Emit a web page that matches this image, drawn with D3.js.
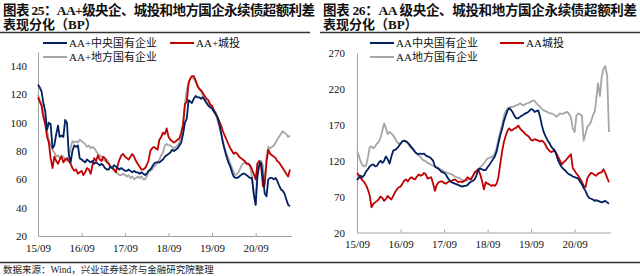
<!DOCTYPE html>
<html><head><meta charset="utf-8">
<script src="https://cdn.jsdelivr.net/npm/d3@7"></script>
<style>body{margin:0;background:#fff}svg{display:block}</style>
</head><body>
<svg id="c" width="640" height="276"></svg>
<script>
// ---------- data (semi-monthly observations, 2015-09 .. 2021-06) ----------
const xTickLabels = ["15/09","16/09","17/09","18/09","19/09","20/09"];
const xTickDates = ["2015-09-01","2016-09-01","2017-09-01","2018-09-01","2019-09-01","2020-09-01"];
const leftYTicks = [20,40,60,80,100,120,140];
const rightYTicks = [20,70,120,170,220,270];

const leftNames = ["AA+中央国有企业","AA+城投","AA+地方国有企业"];
const rightNames = ["AA中央国有企业","AA城投","AA地方国有企业"];

const leftCentral = [
 127,125,122,114,108,95,100,99,82,84,92,98,
 90,91,90,102,100,78,72,80,84,83,84,75,
 74,73,72,74,73,72,73,71,72,71,70,71,
 70,68,67,67,69,68,70,69,68,67,68,67,
 66,66,67,66,65,66,65,65,64,65,64,63,
 64,66,67,69,71,72,72,72,73,74,76,77,
 78,79,81,80,81,82,84,86,92,100,103,116,
 115,114,117,119,118,118,117,118,116,114,112,111,
 110,108,106,104,99,93,86,81,76,72,69,65,
 62,61,61,62,63,64,64,63,62,61,61,50,
 42,62,70,72,62,50,48,60,61,61,60,61,
 59,56,53,52,50,46,42,41];
const leftCity = [
 118,115,112,104,99,90,86,75,68,76,73,71,
 74,76,72,74,75,73,71,68,66,67,64,65,
 66,63,65,68,67,64,70,75,73,77,74,73,
 76,75,72,71,69,68,67,65,70,74,77,78,
 76,75,74,76,78,76,73,71,69,67,67,68,
 70,73,80,82,83,82,81,88,90,93,92,96,
 90,88,87,86,87,88,89,93,99,113,115,128,
 131,133,133,130,126,124,123,121,119,117,116,113,
 112,109,107,104,101,98,94,91,88,85,82,80,
 78,79,78,76,75,74,73,71,71,70,67,64,
 60,71,73,70,55,57,72,81,78,77,76,75,
 73,72,70,68,66,64,62,67];
const leftLocal = [
 120,116,113,106,100,94,88,84,81,79,76,77,
 75,77,76,74,73,76,82,87,86,87,86,88,
 87,86,85,83,84,82,83,82,80,78,77,76,
 74,73,74,72,69,68,66,65,64,63,63,64,
 63,62,63,61,62,60,61,62,61,62,60,60,
 62,65,66,67,69,70,72,74,77,79,84,85,
 84,84,83,82,83,84,86,90,98,113,123,128,
 131,132,131,129,127,124,122,119,117,115,113,112,
 110,108,106,102,97,92,87,82,78,75,71,68,
 65,63,64,66,69,71,72,72,71,69,62,50,
 42,71,73,73,70,55,76,83,82,83,84,86,
 88,90,92,94,93,92,90,91];

const rightCentral = [
 93,96,99,97,100,105,108,112,114,115,112,113,
 117,120,117,120,126,122,116,126,134,135,137,140,
 144,147,148,147,145,142,139,136,132,130,129,130,
 129,130,127,126,125,123,120,112,110,109,106,104,
 103,101,96,93,90,89,88,87,86,85,84,85,
 85,86,89,91,92,94,100,108,109,108,107,107,
 111,114,118,122,126,133,144,155,164,175,183,190,
 193,191,187,182,179,179,181,183,184,186,187,189,
 192,191,188,189,190,181,169,160,154,149,145,140,
 137,135,128,120,115,111,108,106,103,101,100,98,
 97,96,95,91,87,82,78,72,68,67,66,64,
 65,64,63,62,63,64,62,60];
const rightCity = [
 103,100,96,93,90,86,80,72,55,60,62,64,
 66,70,68,64,67,71,68,66,71,76,80,83,
 84,88,92,94,91,95,97,95,94,98,101,99,
 100,103,101,95,96,97,88,78,86,90,91,91,
 89,88,90,91,92,93,94,92,90,91,90,92,
 93,97,95,94,99,104,106,108,101,92,80,90,
 88,87,85,86,85,88,97,115,133,146,155,162,
 165,162,163,165,166,169,165,162,160,157,155,153,
 149,148,150,149,148,147,148,146,142,137,134,132,
 133,134,130,125,120,115,118,120,123,126,129,110,
 106,102,99,95,90,85,83,95,100,103,102,100,
 99,102,103,104,108,103,96,90];
const rightLocal = [
 133,127,119,114,112,113,124,138,140,137,140,144,
 146,152,162,172,165,157,160,158,155,151,146,144,
 144,147,148,146,144,140,137,135,132,129,127,125,
 122,120,119,117,116,114,113,112,111,110,108,107,
 105,104,103,102,101,100,98,97,96,95,93,92,
 92,93,94,96,99,102,106,108,111,113,116,120,
 123,124,125,126,130,138,150,160,170,182,189,193,
 194,195,195,196,197,198,200,198,197,199,200,201,
 202,204,203,200,197,195,192,190,189,188,186,186,
 185,184,181,183,186,185,186,187,188,185,180,165,
 160,183,186,185,182,148,157,167,170,174,183,188,
 205,228,210,237,248,252,238,160];

// semi-monthly observation dates (1st and 16th of each month from 2015-09)
const dates = leftCentral.map((_, i) => new Date(2015, 8 + Math.floor(i / 2), i % 2 ? 16 : 1));

const colors = ["#002060", "#c00000", "#a6a6a6"];
const serif = "'Liberation Serif','Times New Roman','Noto Sans CJK SC',serif";

const svg = d3.select("#c");
svg.append("rect").attr("width", 640).attr("height", 276).attr("fill", "#fff");

function panel(cfg) {
  const g = svg.append("g");
  // titles
  g.append("text").attr("x", cfg.tx).attr("y", 15)
    .attr("textLength", cfg.t1len).attr("lengthAdjust", "spacing")
    .attr("font-family", serif).attr("font-weight", "bold").attr("font-size", 13.5)
    .attr("fill", "#111").text(cfg.title1);
  g.append("text").attr("x", cfg.tx).attr("y", 28.5)
    .attr("font-family", serif).attr("font-weight", "bold").attr("font-size", 13)
    .attr("fill", "#111").text("表现分化（BP）");
  g.append("line").attr("x1", cfg.sepX[0]).attr("x2", cfg.sepX[1])
    .attr("y1", 32.5).attr("y2", 32.5).attr("stroke", "#333").attr("stroke-width", 1.5);

  const x = d3.scaleTime()
    .domain([new Date(2015, 8, 1), new Date(2021, 6, 1)])
    .range(cfg.xRange);
  const y = d3.scaleLinear().domain(cfg.yDomain).range(cfg.yRange);

  // axes
  const xAxis = d3.axisBottom(x)
    .tickValues(xTickDates.map(d => new Date(d + "T00:00:00")))
    .tickFormat((d, i) => xTickLabels[i])
    .tickSizeInner(-3).tickSizeOuter(0).tickPadding(8);
  const gx = g.append("g").attr("transform", `translate(0,${cfg.yRange[0]})`).call(xAxis);
  gx.select(".domain").attr("stroke", "#a0a0a0");
  gx.selectAll(".tick line").attr("stroke", "#a0a0a0");
  gx.selectAll("text").attr("font-family", serif).attr("font-size", 11).attr("fill", "#111");

  const yAxis = d3.axisLeft(y).tickValues(cfg.yTicks)
    .tickSizeInner(0).tickSizeOuter(0).tickPadding(cfg.yPad);
  const gy = g.append("g").attr("transform", `translate(${cfg.xRange[0]},0)`).call(yAxis);
  gy.select(".domain").attr("stroke", "#a0a0a0");
  gy.selectAll("text").attr("font-family", serif).attr("font-size", 11).attr("fill", "#111");

  const line = d3.line().x((d, i) => x(dates[i])).y(d => y(d));
  [2, 1, 0].forEach(k => {
    g.append("path").datum(cfg.series[k]).attr("d", line)
      .attr("fill", "none").attr("stroke", colors[k]).attr("stroke-width", 1.8)
      .attr("stroke-linejoin", "round");
  });

  // legend
  const leg = [
    {x: cfg.legX[0], y: 43, k: 0},
    {x: cfg.legX[1], y: 43, k: 1},
    {x: cfg.legX[0], y: 57, k: 2}
  ];
  leg.forEach(l => {
    g.append("line").attr("x1", l.x).attr("x2", l.x + 24).attr("y1", l.y).attr("y2", l.y)
      .attr("stroke", colors[l.k]).attr("stroke-width", 2);
    g.append("text").attr("x", l.x + 26).attr("y", l.y + 4)
      .attr("font-family", serif).attr("font-size", 11).attr("fill", "#111")
      .text(cfg.names[l.k]);
  });
}

panel({
  tx: 3, t1len: 312, sepX: [0, 310],
  title1: "图表 25：AA+级央企、城投和地方国企永续债超额利差",
  xRange: [38, 291.75], yDomain: [20, 150], yRange: [236, 52], yTicks: leftYTicks, yPad: 11,
  series: [leftCentral, leftCity, leftLocal], names: leftNames, legX: [43, 170]
});
panel({
  tx: 323, t1len: 314, sepX: [320, 640],
  title1: "图表 26：AA 级央企、城投和地方国企永续债超额利差",
  xRange: [357, 610.75], yDomain: [20, 270], yRange: [232.5, 53], yTicks: rightYTicks, yPad: 12,
  series: [rightCentral, rightCity, rightLocal], names: rightNames, legX: [370, 500]
});

// bottom rule and source
svg.append("line").attr("x1", 0).attr("x2", 640).attr("y1", 262.5).attr("y2", 262.5)
  .attr("stroke", "#333").attr("stroke-width", 1.5);
svg.append("text").attr("x", 3).attr("y", 272.5)
  .attr("font-family", serif).attr("font-size", 9.5).attr("fill", "#222")
  .text("数据来源：Wind，兴业证券经济与金融研究院整理");
</script>
</body></html>
